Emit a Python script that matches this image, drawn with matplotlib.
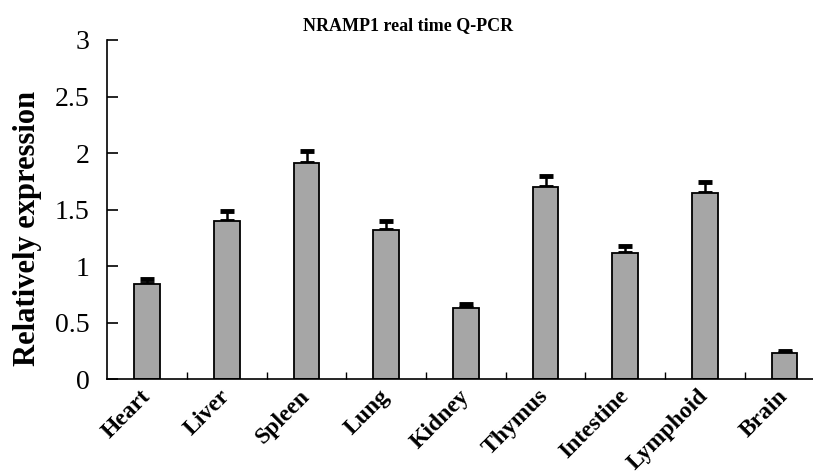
import matplotlib.pyplot as plt
import matplotlib.transforms as mtransforms
import numpy as np

plt.rcParams['font.family'] = ['Liberation Serif', 'DejaVu Serif']

tissues = ['Heart', 'Liver', 'Spleen', 'Lung', 'Kidney', 'Thymus',
           'Intestine', 'Lymphoid', 'Brain']
expression = [0.845, 1.40, 1.91, 1.32, 0.63, 1.70, 1.12, 1.645, 0.235]
errors = [0.045, 0.085, 0.11, 0.08, 0.035, 0.095, 0.06, 0.10, 0.012]
yticks = [0, 0.5, 1, 1.5, 2, 2.5, 3]
yticklabels = ['0', '0.5', '1', '1.5', '2', '2.5', '3']

fig = plt.figure(figsize=(8.13, 4.75), dpi=100)
ax = fig.add_axes([0.132, 0.2015, 0.882, 0.7143])

x = np.arange(len(tissues))
ax.bar(x, expression, width=0.32, color='#a6a6a6', edgecolor='black',
       linewidth=1.3, zorder=2)
ax.errorbar(x, expression, yerr=[np.zeros(len(errors)), errors], fmt='none',
            ecolor='black', elinewidth=1.8, capsize=5, capthick=3.5, zorder=1)

ax.set_xlim(-0.5, len(tissues) - 0.5)
ax.set_ylim(0, 3)
ax.set_yticks(yticks)
ax.set_yticklabels(yticklabels, fontsize=20)
ax.set_xticks(x)
ax.set_xticklabels(tissues, rotation=45, ha='right', va='center',
                   rotation_mode='anchor', fontsize=17, fontweight='bold')
# nudge the rotated labels a bit to the right
shift = mtransforms.ScaledTranslation(6 / 100, 0, fig.dpi_scale_trans)
for lbl in ax.get_xticklabels():
    lbl.set_transform(lbl.get_transform() + shift)
ax.set_xticks(np.arange(len(tissues)) + 0.5, minor=True)
ax.tick_params(axis='x', which='major', length=0, pad=10)
ax.tick_params(axis='x', which='minor', direction='in', length=5, width=1)
ax.tick_params(axis='y', direction='in', length=8, width=1.2, pad=13)

for side in ['top', 'right']:
    ax.spines[side].set_visible(False)
ax.spines['left'].set_linewidth(1.2)
ax.spines['bottom'].set_linewidth(1.2)

fig.text(0.034, 0.52, 'Relatively expression', rotation=90, ha='center',
         va='center', fontsize=22, fontweight='bold')
fig.text(0.502, 0.947, 'NRAMP1 real time Q-PCR', ha='center', va='center',
         fontsize=13, fontweight='bold')

fig.savefig('out.png', dpi=100)
